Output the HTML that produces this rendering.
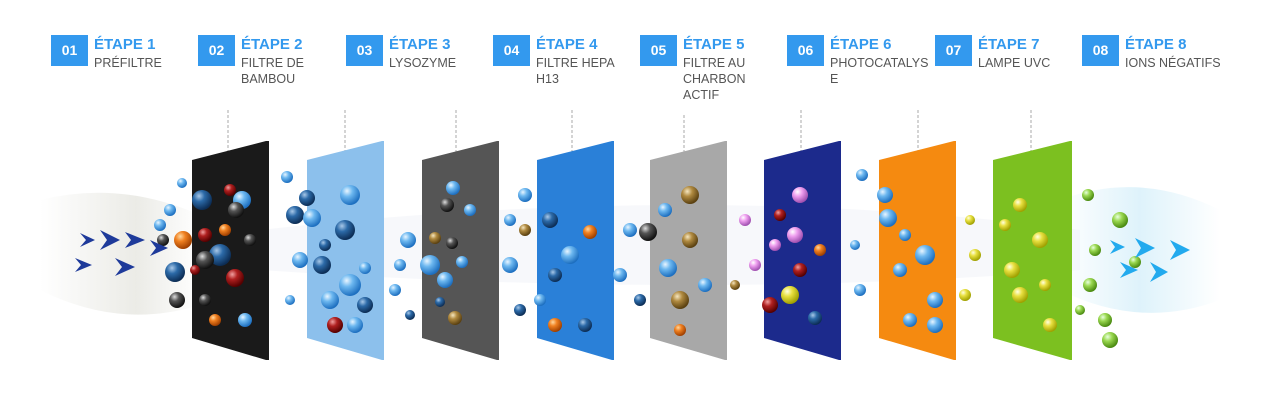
<!DOCTYPE html>
<html><head><meta charset="utf-8"><style>
body{margin:0;width:1273px;height:419px;background:#fff;position:relative;overflow:hidden;font-family:"Liberation Sans",sans-serif}
.b{position:absolute;top:35px;width:37px;height:31px;background:#3399ee;color:#fff;font-weight:bold;font-size:14px;line-height:31px;text-align:center}
.t{position:absolute;top:36px;color:#3399ee;font-weight:bold;font-size:15px;line-height:18px}
.s{position:absolute;top:55px;color:#555;font-size:12.5px;line-height:16px;width:95px}
svg{position:absolute;left:0;top:0}
</style></head><body>
<svg width="1273" height="419">
<defs>
<radialGradient id="lb" cx="35%" cy="30%" r="70%"><stop offset="0" stop-color="#e8f5ff"/><stop offset=".4" stop-color="#6db8f0"/><stop offset="1" stop-color="#1d6fc0"/></radialGradient>
<radialGradient id="db" cx="35%" cy="30%" r="70%"><stop offset="0" stop-color="#a8c8e8"/><stop offset=".4" stop-color="#2c6aa8"/><stop offset="1" stop-color="#0c2d55"/></radialGradient>
<radialGradient id="rd" cx="35%" cy="30%" r="70%"><stop offset="0" stop-color="#f0a0a0"/><stop offset=".4" stop-color="#b02020"/><stop offset="1" stop-color="#500"/></radialGradient>
<radialGradient id="gy" cx="35%" cy="30%" r="70%"><stop offset="0" stop-color="#ddd"/><stop offset=".4" stop-color="#555"/><stop offset="1" stop-color="#111"/></radialGradient>
<radialGradient id="or" cx="35%" cy="30%" r="70%"><stop offset="0" stop-color="#ffd8a0"/><stop offset=".4" stop-color="#f08020"/><stop offset="1" stop-color="#a04000"/></radialGradient>
<radialGradient id="gd" cx="35%" cy="30%" r="70%"><stop offset="0" stop-color="#f5e6c0"/><stop offset=".4" stop-color="#b08a40"/><stop offset="1" stop-color="#5a4010"/></radialGradient>
<radialGradient id="yl" cx="35%" cy="30%" r="70%"><stop offset="0" stop-color="#ffffe0"/><stop offset=".4" stop-color="#e8e040"/><stop offset="1" stop-color="#a0a000"/></radialGradient>
<radialGradient id="gr" cx="35%" cy="30%" r="70%"><stop offset="0" stop-color="#e8ffe0"/><stop offset=".4" stop-color="#9ad850"/><stop offset="1" stop-color="#4a8a10"/></radialGradient>
<radialGradient id="pk" cx="35%" cy="30%" r="70%"><stop offset="0" stop-color="#fff"/><stop offset=".4" stop-color="#f0a0f0"/><stop offset="1" stop-color="#a050b0"/></radialGradient>
<linearGradient id="wl" x1="0" x2="1"><stop offset="0" stop-color="#fff"/><stop offset=".6" stop-color="#deded6"/><stop offset="1" stop-color="#fff"/></linearGradient>
<linearGradient id="wr" x1="0" x2="1"><stop offset="0" stop-color="#fff"/><stop offset=".5" stop-color="#c8eaf8"/><stop offset="1" stop-color="#fff"/></linearGradient>
</defs>
<path d="M40 200 Q120 180 200 215 L200 305 Q120 330 40 290Z" fill="url(#wl)" opacity=".6"/>
<path d="M1060 200 Q1140 170 1220 210 L1220 300 Q1140 330 1060 290Z" fill="url(#wr)" opacity=".6"/>
<path d="M260 230 Q700 180 1080 230 L1080 270 Q700 300 260 270Z" fill="#eceef6" opacity=".4"/>
<g stroke="#aaa" stroke-dasharray="3,2" stroke-width="1">
<line x1="228" y1="110" x2="228" y2="175"/><line x1="345" y1="110" x2="345" y2="170"/><line x1="456" y1="110" x2="456" y2="165"/><line x1="572" y1="110" x2="572" y2="160"/><line x1="684" y1="115" x2="684" y2="160"/><line x1="801" y1="110" x2="801" y2="160"/><line x1="918" y1="110" x2="918" y2="160"/><line x1="1031" y1="110" x2="1031" y2="160"/>
</g>
<polygon points="192,160 266,141 269,141 269,360 266,360 192,338" fill="#1a1a1a"/>
<polygon points="307,160 382,141 384,141 384,360 382,360 307,338" fill="#8cc0ec"/>
<polygon points="422,160 497,141 499,141 499,360 497,360 422,338" fill="#555"/>
<polygon points="537,160 612,141 614,141 614,360 612,360 537,338" fill="#2a80d8"/>
<polygon points="650,160 725,141 727,141 727,360 725,360 650,338" fill="#a8a8a8"/>
<polygon points="764,160 839,141 841,141 841,360 839,360 764,338" fill="#1c2a8c"/>
<polygon points="879,160 954,141 956,141 956,360 954,360 879,338" fill="#f58a10"/>
<polygon points="993,160 1070,141 1072,141 1072,360 1070,360 993,338" fill="#7cc020"/>
<g>
<circle cx="182" cy="183" r="5" fill="url(#lb)"/><circle cx="170" cy="210" r="6" fill="url(#lb)"/><circle cx="163" cy="240" r="6" fill="url(#gy)"/><circle cx="183" cy="240" r="9" fill="url(#or)"/><circle cx="175" cy="272" r="10" fill="url(#db)"/><circle cx="177" cy="300" r="8" fill="url(#gy)"/><circle cx="160" cy="225" r="6" fill="url(#lb)"/>
<circle cx="202" cy="200" r="10" fill="url(#db)"/><circle cx="230" cy="190" r="6" fill="url(#rd)"/><circle cx="242" cy="200" r="9" fill="url(#lb)"/><circle cx="236" cy="210" r="8" fill="url(#gy)"/><circle cx="205" cy="235" r="7" fill="url(#rd)"/><circle cx="220" cy="255" r="11" fill="url(#db)"/><circle cx="205" cy="260" r="9" fill="url(#gy)"/><circle cx="235" cy="278" r="9" fill="url(#rd)"/><circle cx="250" cy="240" r="6" fill="url(#gy)"/><circle cx="215" cy="320" r="6" fill="url(#or)"/><circle cx="245" cy="320" r="7" fill="url(#lb)"/><circle cx="205" cy="300" r="6" fill="url(#gy)"/><circle cx="195" cy="270" r="5" fill="url(#rd)"/><circle cx="225" cy="230" r="6" fill="url(#or)"/>
<circle cx="287" cy="177" r="6" fill="url(#lb)"/><circle cx="307" cy="198" r="8" fill="url(#db)"/><circle cx="295" cy="215" r="9" fill="url(#db)"/><circle cx="312" cy="218" r="9" fill="url(#lb)"/><circle cx="325" cy="245" r="6" fill="url(#db)"/><circle cx="300" cy="260" r="8" fill="url(#lb)"/><circle cx="322" cy="265" r="9" fill="url(#db)"/><circle cx="330" cy="300" r="9" fill="url(#lb)"/><circle cx="335" cy="325" r="8" fill="url(#rd)"/><circle cx="355" cy="325" r="8" fill="url(#lb)"/><circle cx="350" cy="195" r="10" fill="url(#lb)"/><circle cx="345" cy="230" r="10" fill="url(#db)"/><circle cx="365" cy="268" r="6" fill="url(#lb)"/><circle cx="350" cy="285" r="11" fill="url(#lb)"/><circle cx="290" cy="300" r="5" fill="url(#lb)"/><circle cx="365" cy="305" r="8" fill="url(#db)"/>
<circle cx="408" cy="240" r="8" fill="url(#lb)"/><circle cx="400" cy="265" r="6" fill="url(#lb)"/><circle cx="410" cy="315" r="5" fill="url(#db)"/><circle cx="395" cy="290" r="6" fill="url(#lb)"/>
<circle cx="453" cy="188" r="7" fill="url(#lb)"/><circle cx="447" cy="205" r="7" fill="url(#gy)"/><circle cx="435" cy="238" r="6" fill="url(#gd)"/><circle cx="452" cy="243" r="6" fill="url(#gy)"/><circle cx="430" cy="265" r="10" fill="url(#lb)"/><circle cx="462" cy="262" r="6" fill="url(#lb)"/><circle cx="445" cy="280" r="8" fill="url(#lb)"/><circle cx="455" cy="318" r="7" fill="url(#gd)"/><circle cx="470" cy="210" r="6" fill="url(#lb)"/><circle cx="440" cy="302" r="5" fill="url(#db)"/>
<circle cx="525" cy="195" r="7" fill="url(#lb)"/><circle cx="510" cy="220" r="6" fill="url(#lb)"/><circle cx="525" cy="230" r="6" fill="url(#gd)"/><circle cx="510" cy="265" r="8" fill="url(#lb)"/><circle cx="520" cy="310" r="6" fill="url(#db)"/><circle cx="550" cy="220" r="8" fill="url(#db)"/><circle cx="570" cy="255" r="9" fill="url(#lb)"/><circle cx="555" cy="275" r="7" fill="url(#db)"/><circle cx="590" cy="232" r="7" fill="url(#or)"/><circle cx="555" cy="325" r="7" fill="url(#or)"/><circle cx="585" cy="325" r="7" fill="url(#db)"/><circle cx="540" cy="300" r="6" fill="url(#lb)"/>
<circle cx="630" cy="230" r="7" fill="url(#lb)"/><circle cx="620" cy="275" r="7" fill="url(#lb)"/><circle cx="640" cy="300" r="6" fill="url(#db)"/><circle cx="690" cy="195" r="9" fill="url(#gd)"/><circle cx="665" cy="210" r="7" fill="url(#lb)"/><circle cx="690" cy="240" r="8" fill="url(#gd)"/><circle cx="668" cy="268" r="9" fill="url(#lb)"/><circle cx="680" cy="300" r="9" fill="url(#gd)"/><circle cx="705" cy="285" r="7" fill="url(#lb)"/><circle cx="680" cy="330" r="6" fill="url(#or)"/><circle cx="648" cy="232" r="9" fill="url(#gy)"/>
<circle cx="745" cy="220" r="6" fill="url(#pk)"/><circle cx="755" cy="265" r="6" fill="url(#pk)"/><circle cx="735" cy="285" r="5" fill="url(#gd)"/><circle cx="780" cy="215" r="6" fill="url(#rd)"/><circle cx="795" cy="235" r="8" fill="url(#pk)"/><circle cx="775" cy="245" r="6" fill="url(#pk)"/><circle cx="800" cy="270" r="7" fill="url(#rd)"/><circle cx="790" cy="295" r="9" fill="url(#yl)"/><circle cx="770" cy="305" r="8" fill="url(#rd)"/><circle cx="815" cy="318" r="7" fill="url(#db)"/><circle cx="800" cy="195" r="8" fill="url(#pk)"/><circle cx="820" cy="250" r="6" fill="url(#or)"/>
<circle cx="862" cy="175" r="6" fill="url(#lb)"/><circle cx="855" cy="245" r="5" fill="url(#lb)"/><circle cx="860" cy="290" r="6" fill="url(#lb)"/><circle cx="885" cy="195" r="8" fill="url(#lb)"/><circle cx="888" cy="218" r="9" fill="url(#lb)"/><circle cx="925" cy="255" r="10" fill="url(#lb)"/><circle cx="900" cy="270" r="7" fill="url(#lb)"/><circle cx="935" cy="300" r="8" fill="url(#lb)"/><circle cx="910" cy="320" r="7" fill="url(#lb)"/><circle cx="935" cy="325" r="8" fill="url(#lb)"/><circle cx="905" cy="235" r="6" fill="url(#lb)"/>
<circle cx="970" cy="220" r="5" fill="url(#yl)"/><circle cx="975" cy="255" r="6" fill="url(#yl)"/><circle cx="965" cy="295" r="6" fill="url(#yl)"/><circle cx="1020" cy="205" r="7" fill="url(#yl)"/><circle cx="1040" cy="240" r="8" fill="url(#yl)"/><circle cx="1012" cy="270" r="8" fill="url(#yl)"/><circle cx="1045" cy="285" r="6" fill="url(#yl)"/><circle cx="1020" cy="295" r="8" fill="url(#yl)"/><circle cx="1050" cy="325" r="7" fill="url(#yl)"/><circle cx="1005" cy="225" r="6" fill="url(#yl)"/>
<circle cx="1088" cy="195" r="6" fill="url(#gr)"/><circle cx="1120" cy="220" r="8" fill="url(#gr)"/><circle cx="1095" cy="250" r="6" fill="url(#gr)"/><circle cx="1090" cy="285" r="7" fill="url(#gr)"/><circle cx="1105" cy="320" r="7" fill="url(#gr)"/><circle cx="1110" cy="340" r="8" fill="url(#gr)"/><circle cx="1135" cy="262" r="6" fill="url(#gr)"/><circle cx="1080" cy="310" r="5" fill="url(#gr)"/>
</g>
<g fill="#1e3a9a">
<path d="M80 233 L95 240 L80 247 L86 240Z"/><path d="M100 230 L120 240 L100 250 L107 240Z"/><path d="M125 232 L145 240 L125 248 L131 240Z"/>
<path d="M75 258 L92 265 L75 272 L81 265Z"/><path d="M115 258 L135 267 L115 276 L122 267Z"/><path d="M150 240 L168 248 L150 256 L156 248Z"/>
</g>
<g fill="#22aaee">
<path d="M1110 240 L1125 247 L1110 254 L1115 247Z"/><path d="M1135 238 L1155 248 L1135 258 L1141 248Z"/><path d="M1170 240 L1190 250 L1170 260 L1176 250Z"/>
<path d="M1120 262 L1138 270 L1120 278 L1126 270Z"/><path d="M1150 262 L1168 272 L1150 282 L1156 272Z"/>
</g>
</svg>
<div class="b" style="left:51px">01</div><div class="t" style="left:94px">ÉTAPE 1</div><div class="s" style="left:94px">PRÉFILTRE</div>
<div class="b" style="left:198px">02</div><div class="t" style="left:241px">ÉTAPE 2</div><div class="s" style="left:241px;width:70px">FILTRE DE BAMBOU</div>
<div class="b" style="left:346px">03</div><div class="t" style="left:389px">ÉTAPE 3</div><div class="s" style="left:389px">LYSOZYME</div>
<div class="b" style="left:493px">04</div><div class="t" style="left:536px">ÉTAPE 4</div><div class="s" style="left:536px;width:90px">FILTRE HEPA H13</div>
<div class="b" style="left:640px">05</div><div class="t" style="left:683px">ÉTAPE 5</div><div class="s" style="left:683px;width:75px">FILTRE AU CHARBON ACTIF</div>
<div class="b" style="left:787px">06</div><div class="t" style="left:830px">ÉTAPE 6</div><div class="s" style="left:830px;width:104px;word-break:break-all">PHOTOCATALYSE</div>
<div class="b" style="left:935px">07</div><div class="t" style="left:978px">ÉTAPE 7</div><div class="s" style="left:978px">LAMPE UVC</div>
<div class="b" style="left:1082px">08</div><div class="t" style="left:1125px">ÉTAPE 8</div><div class="s" style="left:1125px;width:120px">IONS NÉGATIFS</div>
</body></html>
